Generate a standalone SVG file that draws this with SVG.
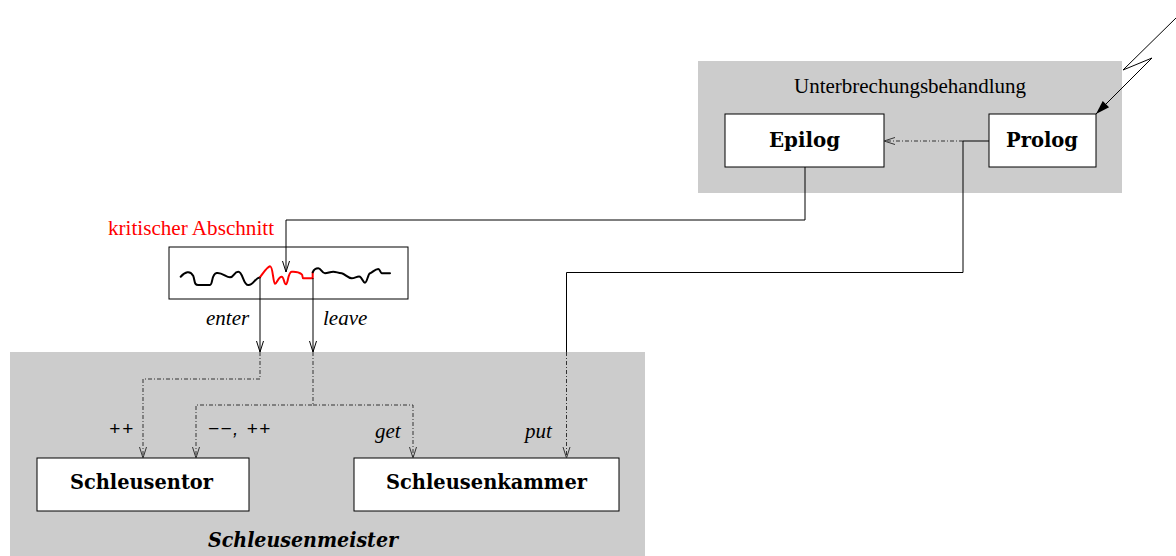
<svg xmlns="http://www.w3.org/2000/svg" width="1176" height="556" viewBox="0 0 1176 556">
<style>
.bg{fill:#cccccc;stroke:none}
.box{fill:#ffffff;stroke:#000000;stroke-width:1}
.bold{font-family:"DejaVu Serif","Liberation Serif",serif;font-weight:bold;font-size:21px;fill:#000;text-anchor:middle}
.serif{font-family:"Liberation Serif",serif;font-size:21px;fill:#000}
.it{font-family:"Liberation Serif",serif;font-style:italic;font-size:21px;fill:#000}
.mono{font-family:"Liberation Sans",sans-serif;font-style:italic;font-size:19px;fill:#000}
.solid{fill:none;stroke:#000;stroke-width:1}
.dd{fill:none;stroke:#333;stroke-width:1;stroke-dasharray:4 2 1 2}
.wave{fill:none;stroke-width:2;stroke-linecap:round;stroke-linejoin:round}
</style>
<defs>
<marker id="openB" markerUnits="userSpaceOnUse" markerWidth="14" markerHeight="10" viewBox="0 -5 12 10" refX="11" refY="0" orient="auto">
<path d="M0,-3.5 L11,0 L0,3.5" fill="none" stroke="#000" stroke-width="1"/>
</marker>
<marker id="openG" markerUnits="userSpaceOnUse" markerWidth="14" markerHeight="10" viewBox="0 -5 12 10" refX="11" refY="0" orient="auto">
<path d="M0,-3.5 L11,0 L0,3.5" fill="none" stroke="#333" stroke-width="1"/>
</marker>
<marker id="fillB" markerUnits="userSpaceOnUse" markerWidth="16" markerHeight="12" viewBox="0 -6 15 12" refX="14" refY="0" orient="auto">
<path d="M0,-4.5 L14,0 L0,4.5 z" fill="#000" stroke="none"/>
</marker>
</defs>
<rect width="1176" height="556" fill="#ffffff"/>
<g id="unterbrechungsbehandlung">
<rect class="bg" x="698" y="61" width="424" height="132"/>
<text class="serif" x="910" y="93" text-anchor="middle" textLength="232" lengthAdjust="spacingAndGlyphs">Unterbrechungsbehandlung</text>
</g>
<g id="schleusenmeister">
<rect class="bg" x="10" y="352" width="635" height="204"/>
<text x="208" y="547" font-family="DejaVu Serif, Liberation Serif, serif" font-weight="bold" font-style="italic" font-size="20" textLength="190" lengthAdjust="spacingAndGlyphs">Schleusenmeister</text>
</g>
<g id="epilog">
<rect class="box" x="725" y="114" width="159" height="53"/>
<text class="bold" x="804.5" y="147" textLength="71" lengthAdjust="spacingAndGlyphs">Epilog</text>
</g>
<g id="prolog">
<rect class="box" x="989" y="114" width="107" height="53"/>
<text class="bold" x="1042" y="147" textLength="72" lengthAdjust="spacingAndGlyphs">Prolog</text>
</g>
<g id="kritischer-abschnitt">
<text class="serif" x="108" y="235" style="fill:#ff0000" textLength="166" lengthAdjust="spacingAndGlyphs">kritischer Abschnitt</text>
<rect class="box" x="169" y="247" width="239" height="52"/>
<path class="wave" stroke="#000" d="M180.7,276.7 C185,272 190,270 193.3,276 C195,281 194,285 198.3,285 L210,285 C213,285 211,274 216.7,273 C222,272 226,277.3 230,277.3 C234,277.3 234,271.7 238.3,271.7 C243,271.7 243,285 248.3,285 C253,285.5 255,278 260,277.3"/>
<path class="wave" stroke="#ff0000" d="M260,277.3 C264,272 267,267 270,266.3 C273,266 273,283 275,283.7 C277,284 278,276.7 281.7,276.7 C284,276.7 284,284.3 286,284.3 C288,284 288,272 291.7,271.7 C295,271.5 299,272 301.7,274.3 C303,275 302,278.3 303.3,278.3 L312.7,278.3 L312.7,272.3"/>
<path class="wave" stroke="#000" d="M312.7,272.3 C314,269 316,268.3 318.3,268.3 C321,268.3 322,273.3 325,273.3 C328,273.3 330,271.7 333.3,271.7 C336,271.7 338,273 341.7,273.3 C345,274 348,278.3 351.7,278.3 C355,278.3 357,276 360,276.7 C362,277.5 363,282.7 365,282.7 C367,282.7 368,274 370,273.3 C373,272 375,269 378.3,269 C380,269 380.5,273.3 381.7,273.3 L390,273.3"/>
</g>
<g id="schleusentor">
<rect class="box" x="37" y="458" width="212" height="53"/>
<text class="bold" x="141.5" y="489" textLength="143" lengthAdjust="spacingAndGlyphs">Schleusentor</text>
</g>
<g id="schleusenkammer">
<rect class="box" x="354" y="458" width="265" height="53"/>
<text class="bold" x="486.5" y="489" textLength="201" lengthAdjust="spacingAndGlyphs">Schleusenkammer</text>
</g>
<g id="connectors">
<path class="solid" d="M1177,17 L1123,70 L1152,58 L1096,114" marker-end="url(#fillB)"/>
<path class="solid" d="M805,167 V220 H286 V272" marker-end="url(#openB)"/>
<path class="solid" d="M989,141 H963"/>
<path class="dd" d="M963,141 H884" marker-end="url(#openG)"/>
<path class="solid" d="M963,141 V272.5 H566.5 V352"/>
<path class="dd" d="M566.5,352 V458" marker-end="url(#openG)"/>
<path class="solid" d="M260,277 V352" marker-end="url(#openB)"/>
<path class="solid" d="M313,278 V352" marker-end="url(#openB)"/>
<path class="dd" d="M260,352 V379 H143 V458" marker-end="url(#openG)"/>
<path class="dd" d="M313,352 V405 H196 V458" marker-end="url(#openG)"/>
<path class="dd" d="M313,405 H413 V458" marker-end="url(#openG)"/>
<text class="it" x="206" y="325">enter</text>
<text class="it" x="323" y="325">leave</text>
<text class="mono" x="109" y="435" textLength="24" lengthAdjust="spacing">++</text>
<text class="mono" x="208" y="435" textLength="62" lengthAdjust="spacing">−−, ++</text>
<text class="it" x="375" y="438">get</text>
<text class="it" x="525" y="438">put</text>
</g>
</svg>
